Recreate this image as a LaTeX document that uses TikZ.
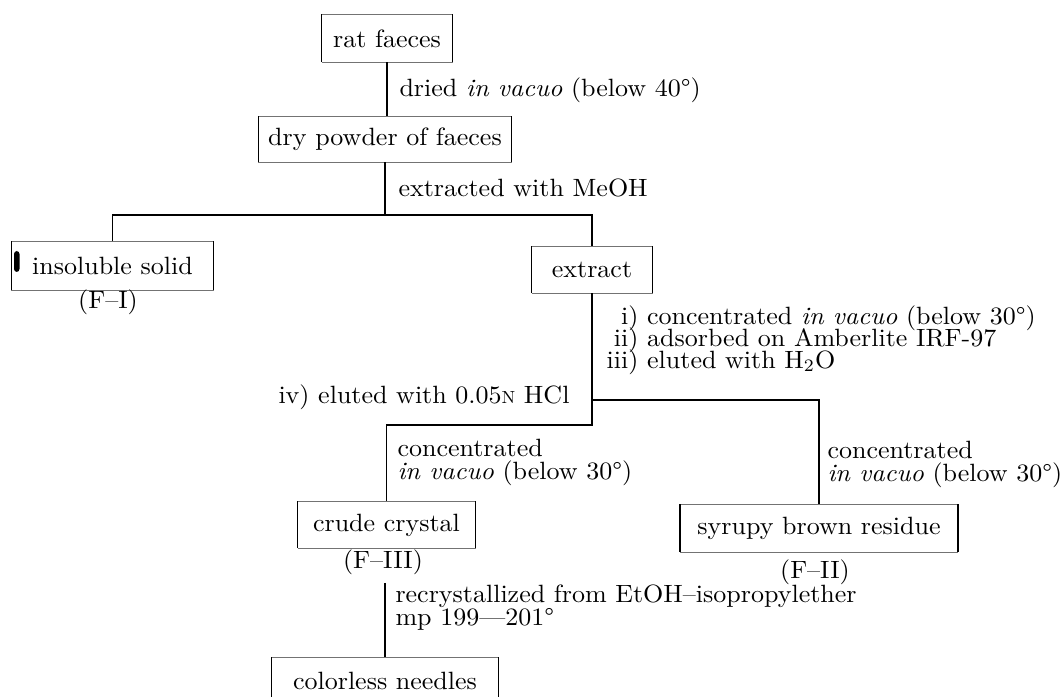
\documentclass[tikz,border=0pt]{standalone}
\usepackage{fontspec}
\setmainfont{lmroman10}[Extension=.otf, UprightFont=*-regular, ItalicFont=*-italic, BoldFont=*-bold, FakeStretch=1.04]
\begin{document}
\begin{tikzpicture}[x=0.4pt,y=-0.4pt,
  every node/.style={font=\fontsize{10}{12}\selectfont, inner sep=0pt},
  box/.style={minimum height=18.4pt},
  lbl/.style={anchor=west, text height=7pt, text depth=2pt},
  side/.style={line width=0.6pt, black},
  edge/.style={line width=0.35pt, black!55},
  conn/.style={line width=0.6pt, black}]
\useasboundingbox (0,0) rectangle (1062,697);
% boxes
\node[box, minimum width=52pt, minimum height=18.8pt] (rat) at (387,38.5) {rat faeces};
\node[box, minimum width=100.8pt, minimum height=18pt] (dry) at (385,139.5) {dry powder of faeces};
\node[box, minimum width=80.4pt, minimum height=19.2pt] (insol) at (112.5,266) {insoluble solid\hspace{6pt}};
\node[box, minimum width=48pt] (extract) at (592,270) {extract};
\node[box, minimum width=70.8pt] (crude) at (386.5,525) {crude crystal};
\node[box, minimum width=110.8pt, minimum height=18.8pt] (syrupy) at (819,528.5) {syrupy brown residue};
\node[box, minimum width=90.4pt] (colorless) at (385,681) {colorless needles};
\foreach \n in {rat,dry,insol,extract,crude,syrupy,colorless}{
  \draw[edge] (\n.north west) -- (\n.north east);
  \draw[edge] (\n.south west) -- (\n.south east);
  \draw[side] (\n.north west) -- (\n.south west);
  \draw[side] (\n.north east) -- (\n.south east);
}
\fill[black, rounded corners=1.2pt] (14,251) rectangle (19.5,272);
% fraction labels
\node (fI) at (108,302) {(F--I)};
\node (fIII) at (383,562) {(F--III)};
\node (fII) at (815,572) {(F--II)};
% step labels
\node[lbl] (t1) at (399,90) {dried \textit{in vacuo} (below 40°)};
\node[lbl] (t2) at (398,190) {extracted with MeOH};
\node[lbl] (t3) at (638,318) {\llap{i)}\ concentrated \textit{in vacuo} (below 30°)};
\node[lbl] (t4) at (638,340) {\llap{ii)}\ adsorbed on Amberlite IRF-97};
\node[lbl] (t5) at (638,362) {\llap{iii)}\ eluted with H$_2$O};
\node[lbl, anchor=east] (t6) at (570,397) {iv) eluted with 0.05{\fontsize{7}{7}\selectfont N} HCl};
\node[lbl] (t7) at (397,450) {concentrated};
\node[lbl] (t8) at (397,473) {\textit{in vacuo} (below 30°)};
\node[lbl] (t9) at (827,452) {concentrated};
\node[lbl] (t10) at (827,475) {\textit{in vacuo} (below 30°)};
\node[lbl] (t11) at (395,596) {recrystallized from EtOH--isopropylether};
\node[lbl] (t12) at (395,619) {mp 199---201°};
% connectors
\coordinate (b1) at (385,215);
\coordinate (b2) at (592,400);
\coordinate (b3) at (592,425);
\coordinate (b4) at (385,583);
\draw[conn] (rat.south) -- (rat.south |- dry.north);
\draw[conn] (dry.south) -- (b1);
\draw[conn] (insol.north) -- (insol.north |- b1) -- (extract.north |- b1) -- (extract.north);
\draw[conn] (extract.south) -- (b3) -- (crude.north |- b3) -- (crude.north);
\draw[conn] (b2) -- (syrupy.north |- b2) -- (syrupy.north);
\draw[conn] (b4) -- (colorless.north);
\end{tikzpicture}
\end{document}
